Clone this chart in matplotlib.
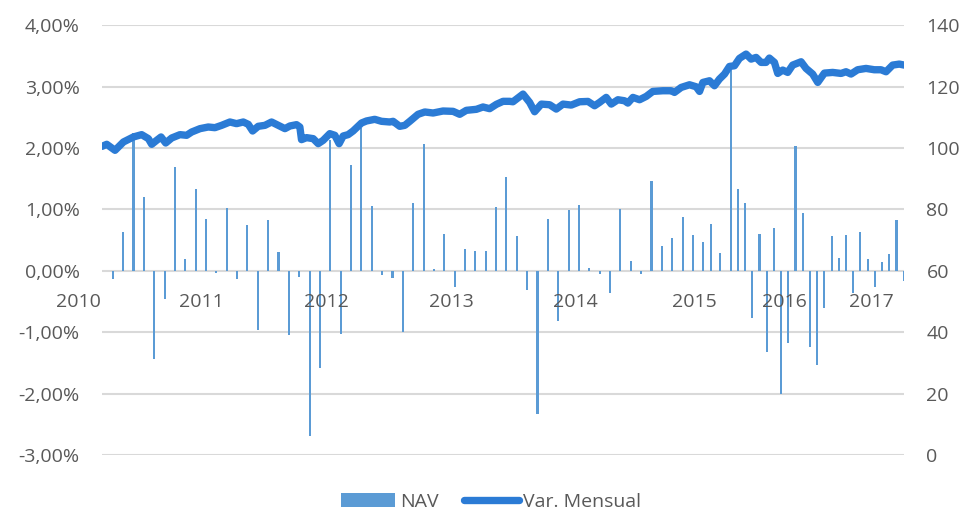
import matplotlib
matplotlib.use("Agg")
import matplotlib.pyplot as plt
import numpy as np
from matplotlib.ticker import FuncFormatter

# monthly bars (left axis, %)
nav = [
    -0.13, 0.64, 2.25, 1.21, -1.43, -0.46, 1.69, 0.19, 1.33, 0.85,
    -0.04, 1.02, -0.13, 0.75, -0.97, 0.82, 0.31, -1.05, -0.10, -2.69,
    -1.58, 2.13, -1.03, 1.72, 2.32, 1.05, -0.07, -0.12, -0.99, 1.11,
    2.06, 0.03, 0.60, -0.27, 0.36, 0.33, 0.33, 1.04, 1.52, 0.56,
    -0.32, -2.34, 0.84, -0.81, 0.99, 1.07, 0.04, -0.05, -0.36, 1.01,
    0.16, -0.05, 1.47, 0.40, 0.54, 0.88, 0.59, 0.47, 0.76, 0.29,
    3.35, 1.33, 1.10, -0.77, 0.60, -1.32, 0.69, -2.00, -1.17, 2.03,
    0.94, -1.24, -1.54, -0.61, 0.56, 0.21, 0.58, -0.36, 0.63, 0.19,
    -0.27, 0.14, 0.27, 0.83, -0.17,
]
# spacing of monthly points along the category axis (daily series gets sparser after 2015)
bar_step = [1.0] * 57 + [0.77, 0.84, 1.03] + [0.696] * 24

# index line (right axis)
line_x = [
    -1.03, -0.58, 0.22, 1.03, 1.99, 2.79, 3.44, 3.76, 4.24, 4.66,
    5.11, 5.69, 6.49, 7.13, 7.62, 8.42, 9.22, 9.86, 10.51, 11.31,
    11.95, 12.60, 13.08, 13.50, 14.04, 14.69, 15.33, 15.97, 16.62, 17.10,
    17.74, 18.06, 18.22, 18.71, 19.35, 19.83, 20.31, 20.95, 21.44, 21.85,
    22.24, 22.72, 23.20, 24.01, 24.49, 25.29, 25.94, 26.74, 27.06, 27.70,
    28.19, 28.67, 29.47, 30.12, 30.92, 31.88, 32.85, 33.49, 34.13, 35.10,
    35.74, 36.38, 37.03, 37.67, 38.31, 38.63, 39.60, 40.24, 40.72, 41.37,
    42.17, 42.81, 43.46, 44.26, 45.06, 45.87, 46.51, 46.99, 47.63, 48.12,
    48.76, 49.40, 49.72, 50.21, 50.85, 51.49, 52.13, 53.10, 53.90, 54.22,
    54.87, 55.67, 56.31, 56.64, 56.96, 57.60, 58.08, 58.56, 59.05, 59.53,
    60.01, 60.49, 61.13, 61.62, 62.10, 62.58, 63.06, 63.38, 63.87, 64.19,
    64.67, 65.15, 65.63, 66.44, 66.92, 67.56, 68.05, 68.69, 69.49, 70.30,
    70.78, 71.26, 71.90, 72.71, 73.51, 74.15, 74.64, 75.28, 75.92, 76.40,
]
line_val = [
    100.55, 101.21, 99.25, 101.97, 103.60, 104.36, 103.05, 101.21, 102.51, 103.60,
    101.64, 103.27, 104.36, 104.14, 105.22, 106.31, 106.85, 106.63, 107.39, 108.48,
    107.94, 108.48, 107.72, 105.55, 107.07, 107.39, 108.48, 107.39, 106.31, 107.18,
    107.61, 106.85, 102.73, 103.38, 103.05, 101.42, 102.51, 104.68, 104.14, 101.42,
    103.92, 104.36, 105.55, 108.15, 108.81, 109.35, 108.70, 108.48, 108.70, 107.07,
    107.39, 108.70, 110.98, 111.74, 111.41, 112.06, 111.95, 110.98, 112.28, 112.61,
    113.37, 112.82, 114.23, 115.21, 115.21, 115.07, 117.57, 114.86, 111.82, 114.31,
    114.10, 112.69, 114.31, 113.99, 115.07, 115.18, 113.77, 114.86, 116.49, 114.31,
    115.73, 115.40, 114.64, 116.49, 115.73, 116.81, 118.44, 118.66, 118.66, 118.12,
    119.74, 120.61, 119.96, 118.44, 121.37, 121.91, 120.29, 122.46, 124.09, 126.58,
    126.80, 129.19, 130.60, 128.97, 129.51, 127.89, 127.89, 129.30, 127.89, 124.30,
    125.39, 124.63, 127.02, 128.10, 125.93, 124.09, 121.37, 124.41, 124.63, 124.30,
    124.85, 124.09, 125.50, 125.93, 125.50, 125.50, 124.85, 127.02, 127.34, 127.02,
]

years = ["2010", "2011", "2012", "2013", "2014", "2015", "2016", "2017"]
year_pos = [-3.35, 8.58, 20.64, 32.69, 44.68, 56.10, 64.83, 73.19]

BAR_C = "#5B9BD5"
LINE_C = "#2B7BD5"
TXT = "#595959"
GRID = "#D9D9D9"

plt.rcParams.update({"font.family": ["Open Sans", "DejaVu Sans"], "font.size": 14})

fig = plt.figure(figsize=(9.63, 5.15), dpi=100)
ax = fig.add_axes([0.106, 0.1165, 0.833, 0.8345])
ax2 = ax.twinx()

bar_x = np.concatenate([[0.0], np.cumsum(bar_step)])
ax.bar(bar_x, nav, width=0.2, color=BAR_C, label="NAV", zorder=2)
ax.set_ylim(-3, 4)
ax.set_xlim(-1.03, 76.4)
ax.set_yticks(np.arange(-3, 5, 1))
ax.yaxis.set_major_formatter(FuncFormatter(lambda v, _: f"{v:.2f}%".replace(".", ",")))
ax.set_xticks([])
ax.grid(axis="y", color=GRID, linewidth=1.5, zorder=0)
ax.set_axisbelow(True)

ax2.plot(line_x, line_val, color=LINE_C, linewidth=5.3, solid_capstyle="round",
         solid_joinstyle="round", label="Var. Mensual", zorder=3)
ax2.set_ylim(0, 140)
ax2.set_yticks(np.arange(0, 141, 20))

for a in (ax, ax2):
    for s in a.spines.values():
        s.set_visible(False)
    a.tick_params(length=0, colors=TXT, labelsize=14)
ax.tick_params(axis="y", pad=16)
ax2.tick_params(axis="y", pad=16)

for lab, p in zip(years, year_pos):
    ax.text(p, -0.5, lab, ha="center", va="center", color=TXT, fontsize=14, clip_on=False)

h1, l1 = ax.get_legend_handles_labels()
h2, l2 = ax2.get_legend_handles_labels()
leg = fig.legend(h1 + h2, l1 + l2, loc="center", bbox_to_anchor=(0.51, 0.026), ncol=2,
                 frameon=False, handlelength=2.8, handletextpad=0.25, columnspacing=1.3,
                 fontsize=14)
for t in leg.get_texts():
    t.set_color(TXT)

fig.savefig("out.png", dpi=100)
